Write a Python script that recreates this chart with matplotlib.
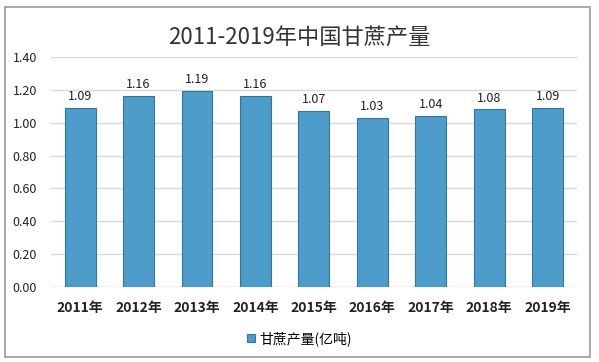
import matplotlib.pyplot as plt
from matplotlib.patches import Rectangle

plt.rcParams['font.family'] = ['Noto Sans CJK SC', 'DejaVu Sans']

years = ['2011年', '2012年', '2013年', '2014年', '2015年', '2016年', '2017年', '2018年', '2019年']
output = [1.09, 1.16, 1.19, 1.16, 1.07, 1.03, 1.04, 1.08, 1.09]
labels = ['1.09', '1.16', '1.19', '1.16', '1.07', '1.03', '1.04', '1.08', '1.09']

fig = plt.figure(figsize=(5.99, 3.62), dpi=100)
fig.patches.append(Rectangle((0.008, 0.015), 0.977, 0.965, transform=fig.transFigure,
                             fill=False, edgecolor='#9a9a9a', linewidth=1.2))
ax = fig.add_axes([0.085, 0.207, 0.878, 0.636])

x = range(len(years))
bars = ax.bar(x, output, width=0.53, color='#4d9cc9', edgecolor='#36759a', linewidth=0.8,
              label='甘蔗产量(亿吨)', zorder=3)
for i, v in enumerate(output):
    ax.text(i, v + 0.03, labels[i], ha='center', va='bottom', fontsize=9, color='#222222')

ax.set_ylim(0, 1.4)
ax.set_yticks([0, 0.2, 0.4, 0.6, 0.8, 1.0, 1.2, 1.4])
ax.set_yticklabels(['0.00', '0.20', '0.40', '0.60', '0.80', '1.00', '1.20', '1.40'])
ax.set_xlim(-0.5, len(years) - 0.5)
ax.set_xticks(list(x))
ax.set_xticklabels(years, fontweight='bold', fontsize=10)
ax.tick_params(axis='both', length=0, colors='#222222')
ax.tick_params(axis='y', pad=10, labelsize=9)
ax.tick_params(axis='x', pad=10)
ax.grid(axis='y', color='#d9d9d9', linewidth=1, zorder=0)
for s in ax.spines.values():
    s.set_visible(False)
ax.axhline(0, color='#d9d9d9', linewidth=1, zorder=2)

fig.text(0.5, 0.895, '2011-2019年中国甘蔗产量', ha='center', va='center', fontsize=16, color='#333333')
fig.legend(handles=[bars], loc='center', bbox_to_anchor=(0.5, 0.065), frameon=False,
           fontsize=10, handlelength=0.6, handleheight=0.6, handletextpad=0.3)

fig.savefig('out.png', dpi=100)
